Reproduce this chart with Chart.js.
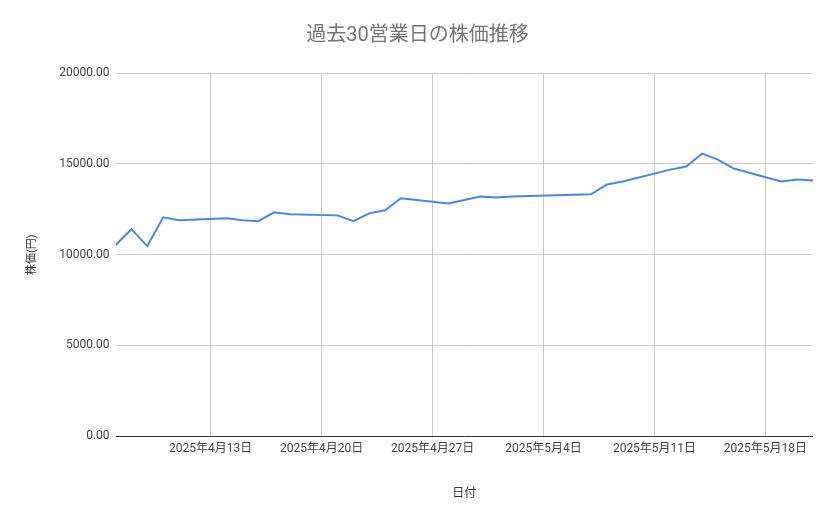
<!DOCTYPE html>
<html><head><meta charset="utf-8">
<script src="https://cdn.jsdelivr.net/npm/chart.js@4"></script>
<style>html,body{margin:0;padding:0;background:#fff}#w{width:839px;height:519px}</style>
</head><body><div id="w"><canvas id="c"></canvas></div>
<script>
const dates = ["2025-04-07","2025-04-08","2025-04-09","2025-04-10","2025-04-11",
"2025-04-14","2025-04-15","2025-04-16","2025-04-17","2025-04-18",
"2025-04-21","2025-04-22","2025-04-23","2025-04-24","2025-04-25",
"2025-04-28","2025-04-30","2025-05-01","2025-05-02",
"2025-05-07","2025-05-08","2025-05-09",
"2025-05-12","2025-05-13","2025-05-14","2025-05-15","2025-05-16",
"2025-05-19","2025-05-20","2025-05-21"];
const prices = [10520,11400,10470,12050,11890,
12000,11890,11840,12330,12220,
12160,11840,12270,12440,13100,
12820,13200,13150,13200,
13320,13860,14030,
14680,14850,15560,15230,14740,
14030,14140,14080];
const tickDates = ["2025-04-13","2025-04-20","2025-04-27","2025-05-04","2025-05-11","2025-05-18"];
const yTicks = [0,5000,10000,15000,20000];

const base = Date.UTC(2025,3,7);
const dayOf = s => { const [y,m,d]=s.split("-").map(Number); return Math.round((Date.UTC(y,m-1,d)-base)/86400000); };
const labelOf = n => { const d=new Date(base+n*86400000); return d.getUTCFullYear()+"年"+(d.getUTCMonth()+1)+"月"+d.getUTCDate()+"日"; };
const pts = dates.map((d,i)=>({x:dayOf(d),y:prices[i]}));
const tickVals = tickDates.map(dayOf);
const font = {family:"Roboto, 'Noto Sans CJK JP', sans-serif"};
new Chart(document.getElementById("c"),{
 type:"line",
 data:{datasets:[{data:pts,borderColor:"#4a86e8",borderWidth:2,pointRadius:0,tension:0}]},
 options:{responsive:true,maintainAspectRatio:false,animation:false,
  layout:{padding:{left:22,right:26,top:10,bottom:14}},
  plugins:{legend:{display:false},tooltip:{enabled:false},
   title:{display:true,text:"過去30営業日の株価推移",color:"#757575",font:{...font,size:20,weight:"normal"},padding:{top:14,bottom:25}}},
  scales:{
   x:{type:"linear",min:dayOf(dates[0]),max:dayOf(dates[dates.length-1]),
    afterBuildTicks:a=>{a.ticks=tickVals.map(v=>({value:v}));},
    ticks:{callback:v=>labelOf(v),color:"#444",font:{...font,size:12},maxRotation:0,padding:6},
    grid:{color:"#cccccc",drawTicks:false},border:{display:false},
    title:{display:true,text:"日付",color:"#333",font:{...font,size:12},padding:{top:24}}},
   y:{min:0,max:20000,
    afterBuildTicks:a=>{a.ticks=yTicks.map(v=>({value:v}));},
    ticks:{callback:v=>v.toFixed(2),color:"#444",font:{...font,size:12},padding:6},
    grid:{color:c=>c.tick&&c.tick.value===0?"#333":"#cccccc",drawTicks:false},border:{display:false},
    title:{display:true,text:"株価(円)",color:"#333",font:{...font,size:11},padding:{bottom:14}}}
  }}
});
</script></body></html>
